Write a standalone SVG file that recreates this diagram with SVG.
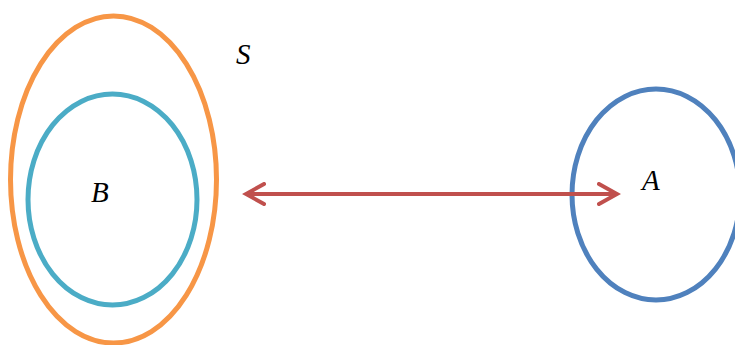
<svg xmlns="http://www.w3.org/2000/svg" width="735" height="345" viewBox="0 0 735 345">
<style>
.lbl{font-family:"Liberation Serif","Times New Roman",serif;font-style:italic;font-size:29px;fill:#000}
.ell{fill:none;stroke-width:5}
</style>
<defs>
<marker id="ah" viewBox="0 0 24 24" refX="20" refY="12" markerWidth="24" markerHeight="24" markerUnits="userSpaceOnUse" orient="auto-start-reverse">
<path d="M2,2 L20,12 L2,22" fill="none" stroke="#C0504D" stroke-width="4" stroke-linecap="round" stroke-linejoin="miter"/>
</marker>
</defs>
<rect width="735" height="345" fill="#fff"/>
<g id="S">
<ellipse class="ell" cx="113.5" cy="179.5" rx="103" ry="163.5" stroke="#F79646"/>
<text class="lbl" x="236" y="64">S</text>
</g>
<g id="B">
<ellipse class="ell" cx="112.5" cy="199.5" rx="84.5" ry="105.5" stroke="#4BACC6"/>
<text class="lbl" x="91" y="202">B</text>
</g>
<g id="A">
<ellipse class="ell" cx="656" cy="194.5" rx="84" ry="105.5" stroke="#4F81BD"/>
<text class="lbl" x="642" y="190">A</text>
</g>
<g id="connectors">
<line x1="246" y1="194" x2="617" y2="194" stroke="#C0504D" stroke-width="4" marker-start="url(#ah)" marker-end="url(#ah)"/>
</g>
</svg>
